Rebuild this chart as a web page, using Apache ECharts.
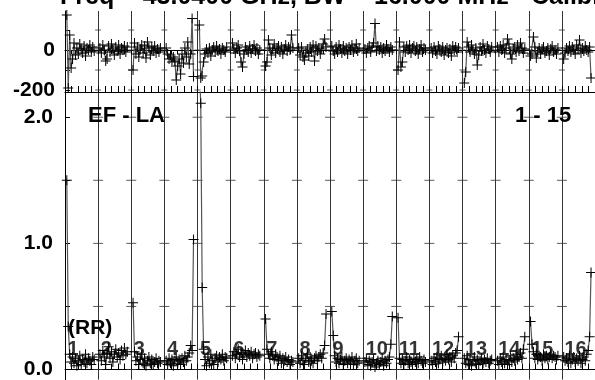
<!DOCTYPE html>
<html><head><meta charset="utf-8">
<script src="https://cdn.jsdelivr.net/npm/echarts@6/dist/echarts.min.js"></script>
<style>html,body{margin:0;padding:0;background:#fff}#c{width:595px;height:380px}</style>
</head><body><div id="c"></div>
<script>
const segLabels = ['1','2','3','4','5','6','7','8','9','10','11','12','13','14','15','16'];
const ampTicks = [0, 0.5, 1, 1.5, 2];
const ampLabels = [0, 1, 2];
const phaseTicks = [-200, -100, 0, 100];
const phaseLabels = [-200, 0];
const titleText = 'Freq = 43.0400 GHz, BW = 16.000 MHz - Calibrated';
const baselineText = 'EF - LA';
const rangeText = '1 - 15';
const polText = '(RR)';

const amp = [
  [1.50, 0.34, 0.12, 0.06, 0.10, 0.05, 0.09, 0.03, 0.07, 0.11, 0.04, 0.08, 0.06, 0.12, 0.05, 0.09, 0.07, 0.04, 0.10, 0.08],
  [0.12, 0.07, 0.15, 0.10, 0.04, 0.13, 0.18, 0.09, 0.14, 0.06, 0.12, 0.16, 0.10, 0.13, 0.08, 0.15, 0.11, 0.17, 0.12, 0.14],
  [0.53, 0.14, 0.07, 0.10, 0.04, 0.08, 0.12, 0.05, 0.09, 0.03, 0.07, 0.10, 0.05, 0.08, 0.04, 0.06, 0.09, 0.05, 0.07, 0.06],
  [0.07, 0.04, 0.09, 0.05, 0.08, 0.03, 0.07, 0.10, 0.05, 0.08, 0.04, 0.09, 0.06, 0.11, 0.07, 0.10, 0.13, 0.19, 0.15, 1.03],
  [2.40, 2.11, 0.65, 0.16, 0.08, 0.03, 0.10, 0.05, 0.12, 0.07, 0.04, 0.09, 0.11, 0.06, 0.10, 0.08, 0.12, 0.07, 0.10, 0.09],
  [0.11, 0.14, 0.09, 0.12, 0.16, 0.10, 0.13, 0.08, 0.12, 0.15, 0.10, 0.13, 0.11, 0.14, 0.09, 0.12, 0.13, 0.10, 0.12, 0.11],
  [0.40, 0.16, 0.12, 0.09, 0.14, 0.11, 0.08, 0.12, 0.10, 0.07, 0.11, 0.05, 0.09, 0.07, 0.10, 0.06, 0.08, 0.04, 0.07, 0.06],
  [0.09, 0.05, 0.11, 0.07, 0.04, 0.09, 0.12, 0.06, 0.10, 0.07, 0.05, 0.09, 0.11, 0.07, 0.10, 0.12, 0.09, 0.13, 0.19, 0.44],
  [0.46, 0.27, 0.11, 0.06, 0.09, 0.05, 0.08, 0.10, 0.04, 0.07, 0.09, 0.05, 0.08, 0.06, 0.10, 0.04, 0.07, 0.09, 0.05, 0.07],
  [0.06, 0.09, 0.04, 0.07, 0.03, 0.06, 0.08, 0.02, 0.05, 0.07, 0.04, 0.06, 0.09, 0.03, 0.07, 0.05, 0.08, 0.10, 0.20, 0.42],
  [0.41, 0.09, 0.05, 0.08, 0.04, 0.07, 0.10, 0.05, 0.08, 0.06, 0.04, 0.09, 0.06, 0.08, 0.05, 0.10, 0.07, 0.05, 0.08, 0.06],
  [0.07, 0.04, 0.09, 0.06, 0.10, 0.05, 0.08, 0.11, 0.06, 0.09, 0.07, 0.12, 0.08, 0.10, 0.06, 0.11, 0.09, 0.13, 0.15, 0.26],
  [0.09, 0.05, 0.11, 0.04, 0.08, 0.03, 0.07, 0.10, 0.05, 0.08, 0.04, 0.07, 0.09, 0.05, 0.08, 0.06, 0.09, 0.05, 0.07, 0.08],
  [0.07, 0.04, 0.09, 0.06, 0.10, 0.05, 0.08, 0.04, 0.07, 0.11, 0.06, 0.09, 0.07, 0.12, 0.08, 0.10, 0.13, 0.09, 0.16, 0.26],
  [0.38, 0.20, 0.14, 0.09, 0.12, 0.08, 0.11, 0.10, 0.07, 0.12, 0.09, 0.11, 0.08, 0.10, 0.12, 0.09, 0.11, 0.10, 0.08, 0.11],
  [0.10, 0.07, 0.09, 0.06, 0.11, 0.05, 0.08, 0.10, 0.06, 0.09, 0.07, 0.11, 0.05, 0.08, 0.10, 0.07, 0.12, 0.15, 0.26, 0.77]
];

const phase = [
  [175, -190, 75, -90, -45, 35, -25, 10, -20, 30, 5, -15, 20, -30, 10, 0, 25, -10, 15, -5],
  [10, -15, 25, 0, -55, -45, 20, -10, 30, 5, -25, 15, -5, 25, -20, 10, 0, 20, -10, 15],
  [-100, 35, -20, 15, -35, 5, 25, -15, 20, -40, 40, 10, -25, 15, -5, 20, -15, 5, -10, 10],
  [10, -20, -45, -25, -60, -35, -55, -150, -80, -45, -120, -20, -65, 10, -35, 40, -70, -20, 158, -133],
  [125, -140, -130, -60, -20, 5, -15, 10, -30, 0, 15, -10, 20, -5, 5, -20, 10, 0, -10, 15],
  [35, 5, -15, 10, 25, -5, -60, -85, -20, 15, 0, -10, 20, -15, 5, 25, -5, 10, -20, 0],
  [-80, -60, 50, 10, -25, 5, 30, -15, 10, 20, -10, 15, -20, 5, 25, -5, 15, 0, 75, 10],
  [10, -25, 15, -35, -50, -15, 5, -30, 15, -10, 25, -55, 20, -5, 10, -20, 5, 30, 55, 15],
  [20, -5, -20, 15, -10, 25, 5, -15, 20, -5, 10, -20, 15, 0, 25, -10, 5, 30, -5, 10],
  [5, -15, 10, 20, -10, 15, 35, 133, -5, 20, 0, 15, -15, 10, -5, 25, 5, -10, 15, 0],
  [-100, 40, -85, -60, 15, -10, 20, 0, 25, -15, 10, 20, -5, 15, -20, 5, 25, -10, 10, 0],
  [10, -15, 15, -5, -20, 20, 5, -10, 15, -25, 0, 10, -15, 5, -30, 20, 0, 15, -10, 10],
  [-165, -110, 40, 15, -10, 25, 0, -20, 10, -75, -25, 15, -5, 30, 0, -15, 20, 5, -10, 15],
  [15, -10, 20, 0, 25, -15, 10, 55, 30, -20, -45, 5, 15, -10, 25, -5, 35, 10, -15, 5],
  [-30, -20, 65, 15, -40, -10, 10, -20, 5, 15, -15, -5, 10, -25, 5, 20, -10, 0, -20, 10],
  [-45, -15, 10, -5, 20, -10, 15, 0, -20, 25, 5, 50, -15, 10, -5, 20, 0, -10, 15, -140]
];

const FONT = '"Liberation Sans", Arial, sans-serif';
const plusPath = 'path://M4.5,0H5.5V4.5H10V5.5H5.5V10H4.5V5.5H0V4.5H4.5Z';
function pos(s, j, n) { return s + (j + 1.25) / (n + 3); }

const chart = echarts.init(document.getElementById('c'), null, {renderer: 'canvas'});
const series = [];
function segSeries(arr, xi, yi) {
  arr.forEach((vals, s) => {
    series.push({
      type: 'line', xAxisIndex: xi, yAxisIndex: yi,
      data: vals.map((v, j) => [pos(s, j, vals.length), v]),
      symbol: plusPath, symbolSize: 10, showAllSymbol: true,
      lineStyle: {color: '#555', width: 1.2},
      itemStyle: {color: '#000'},
      clip: true, silent: true, z: 3
    });
  });
}
segSeries(phase, 0, 0);
segSeries(amp, 1, 1);

const bounds = segLabels.slice(1).map((_, i) => i + 1);
series.push({
  type: 'scatter', xAxisIndex: 1, yAxisIndex: 1, symbol: 'rect', symbolSize: [10, 1],
  itemStyle: {color: '#333'}, silent: true, z: 2,
  data: bounds.flatMap(b => ampTicks.map(t => [b, t]))
});
series.push({
  type: 'scatter', xAxisIndex: 0, yAxisIndex: 0, symbol: 'rect', symbolSize: [6, 1],
  itemStyle: {color: '#333'}, silent: true, z: 2,
  data: bounds.flatMap(b => phaseTicks.map(t => [b, t]))
});
series.push({
  type: 'scatter', xAxisIndex: 1, yAxisIndex: 1, symbol: 'circle', symbolSize: 1,
  itemStyle: {color: 'rgba(0,0,0,0)'}, silent: true, z: 5,
  data: segLabels.map((l, s) => ({value: [s, 0.162], name: l})),
  label: {show: true, position: 'right', distance: 2, formatter: p => p.name,
    color: '#000', fontFamily: FONT, fontWeight: 'bold', fontSize: 20}
});

const axisLineStyle = {color: '#000', width: 1};
const xCommon = {
  type: 'value', min: 0, max: 16, interval: 1,
  axisLine: {show: true, lineStyle: axisLineStyle},
  axisLabel: {show: false},
  splitLine: {show: true, lineStyle: {color: '#333', width: 1}}
};

chart.setOption({
  animation: false,
  backgroundColor: '#fff',
  grid: [
    {left: 65, top: 11, width: 533.33, height: 81},
    {left: 65, top: 92, width: 533.33, height: 288.4}
  ],
  xAxis: [
    Object.assign({}, xCommon, {gridIndex: 0, position: 'top',
      axisTick: {show: true, inside: true, length: 4, lineStyle: axisLineStyle},
      minorTick: {show: true, splitNumber: 5, length: 4, lineStyle: axisLineStyle}}),
    Object.assign({}, xCommon, {gridIndex: 1, position: 'bottom',
      axisTick: {show: true, inside: true, length: 6, lineStyle: axisLineStyle},
      minorTick: {show: true, splitNumber: 5, length: 6, lineStyle: axisLineStyle}}),
    Object.assign({}, xCommon, {gridIndex: 1, position: 'top', splitLine: {show: false},
      axisTick: {show: true, inside: false, length: 6, lineStyle: axisLineStyle},
      minorTick: {show: true, splitNumber: 5, length: 6, lineStyle: axisLineStyle}})
  ],
  yAxis: [
    {type: 'value', gridIndex: 0, min: -210, max: 195,
      axisLine: {show: true, lineStyle: axisLineStyle},
      axisTick: {show: true, inside: true, length: 5, customValues: phaseTicks, lineStyle: axisLineStyle},
      axisLabel: {show: true, customValues: phaseLabels, margin: 10, color: '#000',
        fontFamily: FONT, fontWeight: 'bold', fontSize: 21},
      splitLine: {show: false}},
    {type: 'value', gridIndex: 1, min: -0.08, max: 2.2,
      axisLine: {show: true, lineStyle: axisLineStyle},
      axisTick: {show: true, inside: true, length: 5, customValues: ampTicks, lineStyle: axisLineStyle},
      axisLabel: {show: true, customValues: ampLabels, margin: 12, color: '#000',
        fontFamily: FONT, fontWeight: 'bold', fontSize: 21, formatter: v => Number(v).toFixed(1)},
      splitLine: {show: false}}
  ],
  graphic: [
    {type: 'text', left: 60, top: -15, z: 10,
      style: {text: titleText, font: 'bold 25px ' + FONT, fill: '#000'}},
    {type: 'text', left: 88, top: 105, z: 10,
      style: {text: baselineText, font: 'bold 22px ' + FONT, fill: '#000'}},
    {type: 'text', left: 515, top: 105, z: 10,
      style: {text: rangeText, font: 'bold 22px ' + FONT, fill: '#000'}},
    {type: 'text', left: 68, top: 318, z: 10,
      style: {text: polText, font: 'bold 21px ' + FONT, fill: '#000'}}
  ],
  series: series
});
</script></body></html>
